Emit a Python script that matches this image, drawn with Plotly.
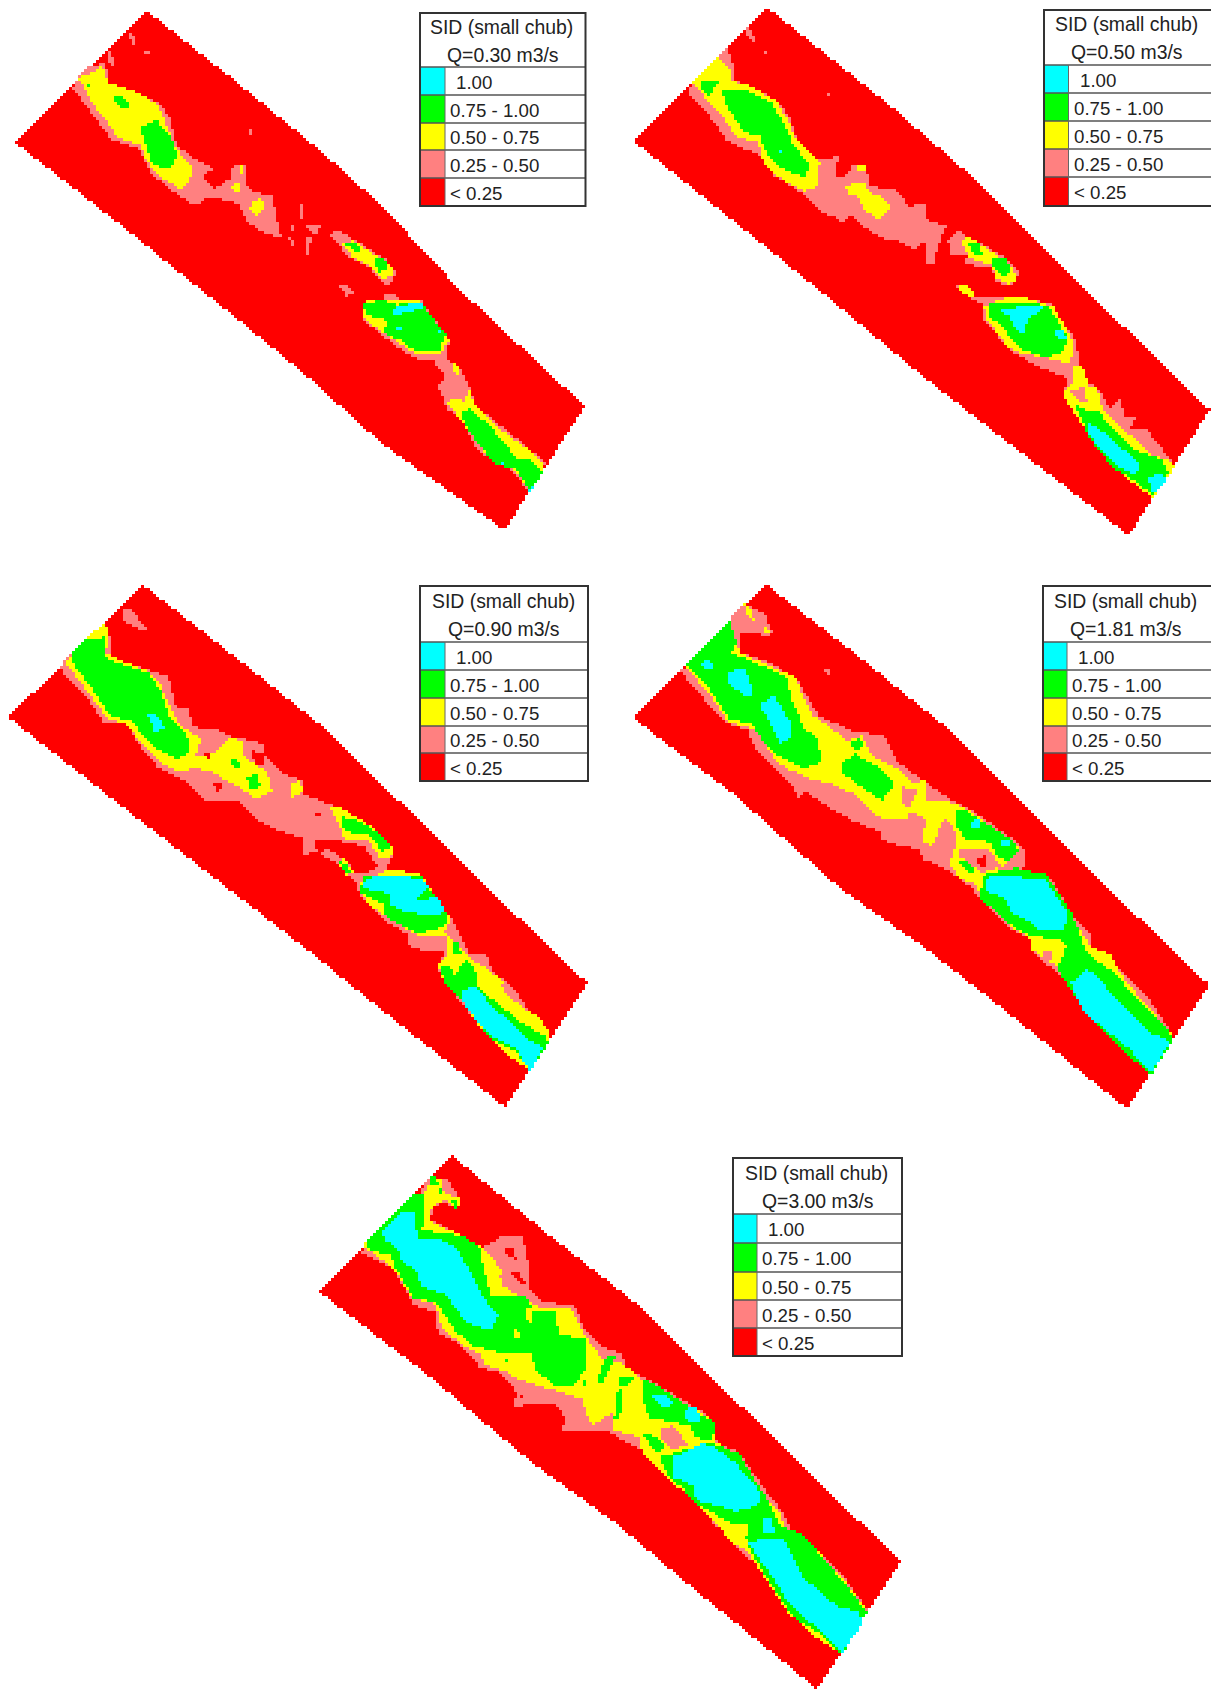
import numpy as np
import plotly.graph_objects as go

# Habitat classes and legend text
CATEGORIES = ["1.00", "0.75 - 1.00", "0.50 - 0.75", "0.25 - 0.50", "< 0.25"]
CLASS_COLORS = ["#00ffff", "#00ff00", "#ffff00", "#ff8080", "#ff0000"]
TITLE = "SID (small chub)"
DISCHARGE = ["Q=0.30 m3/s", "Q=0.50 m3/s", "Q=0.90 m3/s", "Q=1.81 m3/s", "Q=3.00 m3/s"]

# Map outlines of each habitat class per panel
P1_RED = [[(382,30),(620,240),(850,450),(1000,600),(1200,840),(1528,1180),(1318,1540),(1000,1290),(800,1090),(580,890),(300,640),(38,412)]]
P1_PINK = [
 [(205,225),(235,190),(275,185),(285,240),(340,260),(410,295),(445,340),(460,420),(500,455),(555,490),(530,515),(560,550),(600,520),(610,475),(640,475),(640,510),(650,550),(710,570),(735,690),(700,680),(650,650),(620,590),(540,570),(510,600),(470,570),(400,510),(360,430),(290,405),(240,330),(190,255)],
 [(335,95),(345,95),(355,130),(345,125)],[(280,150),(293,150),(295,190),(280,180)],[(375,150),(390,150),(385,167)],
 [(540,275),(550,275),(548,288)],[(648,378),(660,378),(655,395)],
 [(780,590),(792,590),(790,640),(780,640)],[(750,660),(770,655),(765,675)],[(800,655),(840,655),(825,685),(805,670)],[(800,690),(812,690),(810,740),(800,740)],[(755,690),(770,695),(765,715)],
 [(860,680),(885,670),(960,720),(1010,755),(1035,795),(1015,830),(990,810),(965,775),(910,745)],
 [(885,825),(900,825),(925,850),(905,860)],
 [(1010,850),(1035,850),(1040,870),(1100,870),(1120,905),(1175,985),(1165,1040),(1205,1070),(1230,1130),(1240,1175),(1390,1310),(1425,1345),(1385,1430),(1340,1370),(1250,1310),(1200,1210),(1170,1190),(1145,1120),(1165,1095),(1130,1045),(1080,1040),(1000,975),(945,925),(945,880),(1000,870)],
]
P1_YELLOW = [
 [(205,225),(235,215),(265,190),(285,240),(340,260),(410,300),(430,350),(455,420),(480,460),(505,490),(495,520),(475,550),(420,515),(385,470),(365,420),(310,400),(270,340),(235,290)],
 [(620,530),(635,550),(620,560),(605,545)],[(660,590),(680,570),(695,600),(670,625),(648,605)],[(630,480),(640,505),(630,505)],
 [(890,705),(925,700),(985,745),(1020,770),(1030,800),(1000,810),(970,775),(920,745)],
 [(945,890),(960,870),(1100,875),(1125,915),(1175,990),(1150,1025),(1080,1025),(1000,965),(950,925)],
 [(1170,1170),(1190,1155),(1215,1170),(1225,1130),(1240,1175),(1300,1240),(1385,1310),(1425,1350),(1385,1430),(1355,1375),(1270,1320),(1210,1230)],
 [(1185,1055),(1195,1055),(1198,1085),(1188,1085)],
]
P1_GREEN = [
 [(295,280),(320,278),(345,305),(330,318),(295,295)],[(365,370),(410,350),(445,395),(465,450),(445,490),(400,480),(385,430)],[(224,245),(236,245),(232,258)],
 [(905,710),(930,705),(945,730),(925,730)],[(975,745),(1000,745),(1015,780),(990,790)],
 [(950,880),(1000,872),(1035,885),(1100,875),(1120,910),(1165,970),(1150,1015),(1085,1020),(1050,990),(1005,970),(1010,930),(955,915)],
 [(1200,1200),(1230,1185),(1290,1250),(1350,1330),(1385,1335),(1420,1370),(1385,1425),(1350,1365),(1290,1345),(1230,1260)],
]
P1_CYAN = [
 [(1030,895),(1100,875),(1110,895),(1030,915)],[(1030,950),(1050,945),(1050,960),(1035,960)],[(1140,960),(1150,960),(1146,972)],
 [(1378,1420),(1392,1415),(1385,1432)],[(1310,1340),(1320,1340),(1315,1352)],
]

P2_RED = [[(388,20),(560,170),(720,310),(900,480),(1070,660),(1290,900),(1565,1190),(1350,1555),(1000,1260),(800,1090),(570,880),(300,640),(35,408)]]
P2_PINK = [
 [(190,240),(260,160),(285,135),(300,190),(305,235),(350,250),(420,295),(450,340),(470,410),(520,465),(580,455),(570,510),(600,510),(620,475),(650,475),(665,540),(740,555),(765,600),(810,590),(815,640),(865,655),(850,700),(830,770),(810,770),(810,700),(780,725),(740,700),(700,695),(650,660),(610,625),(590,650),(575,630),(540,620),(480,560),(410,510),(370,450),(285,410),(240,340),(180,270)],
 [(870,700),(895,670),(960,710),(1020,745),(1060,795),(1040,830),(1000,820),(985,780),(910,765),(925,745),(880,740)],
 [(330,80),(350,85),(360,130),(340,110)],[(380,145),(395,145),(388,160)],[(550,270),(562,270),(556,282)],[(662,372),(672,372),(670,390)],
 [(885,825),(910,825),(945,860),(1040,860),(1140,880),(1210,990),(1220,1060),(1240,1110),(1270,1130),(1300,1190),(1325,1155),(1340,1210),(1370,1215),(1350,1245),(1400,1250),(1465,1340),(1415,1445),(1360,1390),(1280,1310),(1230,1230),(1175,1145),(1190,1100),(1100,1060),(1040,1020),(960,925),(965,885),(930,865)],
]
P2_YELLOW = [
 [(190,240),(260,165),(295,210),(290,235),(350,250),(415,295),(445,350),(470,410),(530,470),(525,540),(490,555),(420,515),(380,470),(365,410),(310,400),(260,320),(215,270)],
 [(600,545),(620,530),(650,535),(660,560),(690,570),(720,600),(690,640),(650,610),(630,570),(605,570)],[(630,480),(650,482),(650,500),(632,500)],
 [(900,695),(930,690),(1000,740),(1045,785),(1055,810),(1030,825),(1000,810),(985,770),(930,750)],
 [(895,830),(915,825),(940,855),(930,862),(905,850)],
 [(965,890),(1035,860),(1060,860),(1150,890),(1205,995),(1195,1055),(1130,1040),(1065,1025),(1030,1010),(975,930)],
 [(1200,1060),(1225,1060),(1245,1120),(1265,1120),(1280,1190),(1340,1250),(1410,1320),(1465,1340),(1470,1360),(1415,1445),(1345,1390),(1250,1270),(1200,1190),(1175,1145),(1190,1125),(1205,1110)],
]
P2_GREEN = [
 [(215,235),(270,232),(245,255),(240,280),(215,255)],[(270,265),(340,265),(400,295),(430,350),(460,420),(505,480),(490,515),(430,490),(390,445),(370,395),(330,385),(285,310)],
 [(925,705),(955,710),(960,740),(935,735)],[(990,745),(1020,745),(1040,785),(1015,805),(990,770)],
 [(975,880),(1135,885),(1190,985),(1170,1030),(1125,1035),(1065,1015),(1035,980),(1000,930),(975,925)],
 [(1205,1175),(1235,1190),(1270,1190),(1300,1240),(1370,1310),(1440,1335),(1455,1375),(1415,1440),(1370,1400),(1310,1360),(1250,1280)],
]
P2_CYAN = [
 [(420,432),(430,432),(425,443)],
 [(1000,895),(1130,890),(1085,925),(1070,965),(1050,960),(1035,920)],[(1150,960),(1175,955),(1185,985),(1160,980)],
 [(1240,1230),(1265,1240),(1320,1290),(1380,1350),(1370,1375),(1340,1370),(1270,1300),(1245,1260)],[(1400,1390),(1430,1375),(1452,1390),(1415,1440)],
]
P2_PINK2 = [[(1195,1135),(1230,1125),(1240,1170),(1210,1160)]]

P3_RED = [[(372,42),(600,240),(860,470),(1060,690),(1280,930),(1535,1200),(1320,1560),(1000,1280),(800,1100),(590,920),(300,670),(22,428)]]
P3_PINK = [
 [(175,255),(230,195),(275,150),(290,205),(285,250),(410,300),(440,310),(460,395),(490,405),(505,455),(570,465),(610,485),(690,505),(690,540),(735,590),(790,610),(790,650),(860,680),(880,690),(1030,820),(1010,870),(1100,890),(1180,1015),(1200,1060),(1230,1120),(1270,1115),(1290,1170),(1340,1210),(1380,1280),(1440,1350),(1385,1455),(1350,1420),(1280,1360),(1200,1250),(1145,1165),(1160,1110),(1110,1110),(1070,1090),(1070,1060),(1000,1015),(940,940),(930,905),(880,850),(830,820),(790,825),(790,780),(740,760),(690,740),(650,700),(620,670),(540,670),(490,615),(410,570),(365,510),(335,450),(270,440),(220,360),(155,285)],
 [(320,110),(345,115),(385,175),(365,175),(325,150)],
]
P3_YELLOW = [
 [(170,265),(230,195),(275,150),(285,195),(275,240),(290,250),(390,295),(420,335),(445,400),(470,450),(525,490),(510,540),(560,530),(600,490),(635,495),(635,540),(700,590),(710,640),(670,665),(630,635),(590,610),(555,585),(500,575),(470,590),(420,560),(370,505),(335,450),(280,430),(220,340)],
 [(760,620),(785,610),(790,645),(760,665)],
 [(865,690),(890,690),(980,750),(1030,810),(1020,840),(995,840),(960,780),(900,780)],
 [(880,845),(900,840),(925,880),(905,885)],
 [(940,910),(1010,870),(1030,870),(1100,885),(1170,1000),(1180,1020),(1160,1050),(1230,1130),(1275,1160),(1330,1210),(1360,1260),(1410,1300),(1440,1350),(1385,1455),(1340,1420),(1260,1340),(1195,1230),(1160,1195),(1145,1150),(1165,1120),(1170,1060),(1090,1060),(1030,1020),(960,970)],
]
P3_GREEN = [
 [(190,240),(225,200),(275,195),(275,250),(295,265),(390,300),(420,350),(440,420),(495,490),(490,530),(465,550),(410,520),(370,475),(345,440),(290,425),(245,350),(190,270)],
 [(600,545),(630,560),(625,575),(600,565)],[(625,505),(635,515),(628,520)],[(645,600),(675,592),(680,630),(655,635)],
 [(890,715),(930,725),(985,760),(1025,800),(1000,820),(965,770),(900,760)],
 [(885,845),(905,855),(915,875),(900,880)],
 [(950,890),(1100,890),(1165,995),(1170,1020),(1150,1040),(1095,1055),(1040,1025),(1010,1010),(1000,970),(940,935)],
 [(1150,1145),(1170,1150),(1190,1175),(1215,1130),(1240,1150),(1250,1210),(1300,1260),(1370,1320),(1420,1350),(1435,1370),(1385,1455),(1350,1400),(1280,1360),(1210,1250),(1160,1195)],
 [(1180,1080),(1200,1080),(1205,1115),(1180,1115)],
]
P3_CYAN = [
 [(385,420),(405,420),(435,460),(405,470)],
 [(950,905),(975,890),(1030,890),(1100,895),(1120,920),(1080,960),(1145,950),(1165,995),(1130,1005),(1050,990),(1020,970),(1015,940),(950,925)],
 [(1205,1220),(1240,1210),(1290,1270),(1350,1330),(1395,1375),(1420,1385),(1385,1455),(1345,1385),(1290,1360),(1255,1320),(1205,1250)],
]
P3_PINK2 = [[(1310,1200),(1340,1210),(1380,1280),(1355,1260),(1320,1230)]]
P3_RED2 = [
 [(655,525),(690,530),(690,560),(670,570)],[(555,615),(585,615),(570,645)],[(535,535),(550,535),(545,545)],[(592,690),(604,690),(598,702)],[(825,710),(838,710),(832,722)],
 [(640,388),(652,388),(650,405)],[(530,288),(542,288),(536,300)],
 [(820,790),(860,780),(900,790),(950,800),(985,860),(960,880),(930,880),(900,840),(860,810),(830,820)],
]

P4_RED = [[(388,42),(620,240),(880,470),(1060,670),(1290,920),(1563,1205),(1345,1565),(1000,1260),(800,1090),(590,930),(300,650),(35,430),(165,285)]]
P4_PINK = [
 [(165,290),(290,150),(300,130),(330,100),(385,130),(405,185),(385,190),(330,180),(315,190),(320,240),(410,275),(470,320),(515,400),(530,425),(590,455),(620,470),(700,480),(735,555),(790,600),(880,670),(930,695),(1040,780),(1075,815),(1070,870),(1140,890),(1200,1000),(1250,1060),(1250,1100),(1290,1115),(1400,1240),(1465,1345),(1410,1465),(1355,1400),(1280,1340),(1200,1220),(1160,1170),(1095,1110),(1095,1075),(1030,1040),(960,960),(930,920),(870,870),(805,840),(790,810),(740,800),(695,785),(690,760),(620,730),(540,680),(490,640),(475,665),(455,625),(420,590),(355,510),(340,465),(280,445),(235,390),(160,295)],
 [(540,285),(555,285),(560,305),(545,300)],
]
P4_YELLOW = [
 [(170,280),(290,150),(320,240),(350,255),(430,295),(465,310),(480,350),(510,420),(580,475),(600,500),(640,480),(670,540),(740,580),(780,620),(810,610),(810,670),(860,670),(890,680),(930,700),(1040,790),(1060,810),(1030,850),(1000,870),(1060,870),(1140,900),(1195,1000),(1250,1095),(1300,1115),(1320,1160),(1370,1230),(1400,1270),(1470,1350),(1410,1465),(1350,1400),(1270,1320),(1190,1200),(1160,1150),(1090,1100),(1090,1070),(1040,1040),(960,955),(945,915),(895,890),(875,850),(895,780),(880,740),(860,720),(830,800),(805,790),(810,720),(770,700),(760,720),(690,720),(620,650),(590,635),(560,620),(510,610),(450,580),(415,555),(370,480),(350,460),(285,440),(240,360)],
 [(330,100),(345,105),(355,145),(340,140)],[(378,165),(392,165),(395,180),(385,180)],
]
P4_GREEN = [
 [(175,275),(290,150),(310,210),(295,245),(330,255),(440,310),(460,390),(490,460),(525,490),(535,560),(490,575),(420,540),(375,490),(350,445),(290,435),(240,350)],
 [(590,560),(625,535),(680,570),(730,620),(695,670),(640,630),(590,590)],[(610,505),(635,490),(650,515),(625,520)],
 [(890,700),(920,700),(1040,785),(1060,815),(1030,850),(995,825),(985,790),(915,780),(890,740)],
 [(900,850),(920,840),(945,870),(930,885)],
 [(965,885),(1050,865),(1130,885),(1200,1000),(1240,1115),(1300,1160),(1370,1240),(1440,1320),(1470,1360),(1410,1465),(1370,1430),(1290,1350),(1210,1240),(1160,1160),(1185,1090),(1160,1070),(1090,1065),(1020,1020),(955,950)],
]
P4_CYAN = [
 [(215,270),(240,255),(245,285),(225,285)],[(285,295),(330,285),(350,340),(345,375),(305,345),(285,320)],[(370,390),(410,365),(450,440),(450,490),(425,505),(400,450)],
 [(925,730),(955,725),(960,750),(935,745)],[(1005,790),(1035,780),(1030,800),(1010,805)],
 [(970,905),(985,890),(1125,895),(1190,1000),(1175,1045),(1110,1045),(1090,1020),(1040,1000),(1020,950),(970,935)],
 [(1195,1200),(1240,1160),(1265,1175),(1280,1200),(1340,1270),(1400,1340),(1460,1370),(1410,1460),(1350,1390),(1270,1320),(1230,1280)],
]
P4_YELLOW2 = [[(1090,1075),(1170,1075),(1180,1095),(1155,1130),(1120,1120),(1095,1105)]]
P4_PINK2 = [[(900,810),(980,810),(1010,860),(960,880),(900,830)],[(1125,1105),(1150,1105),(1150,1135),(1125,1125)],[(745,630),(790,640),(770,690),(745,680)]]
P4_RED2 = [[(945,840),(970,830),(975,860),(955,860)],[(660,390),(671,390),(668,408)]]

P5_RED = [[(372,45),(600,250),(850,465),(1050,680),(1260,900),(1543,1205),(1325,1568),(1000,1280),(800,1095),(590,930),(300,665),(22,432)]]
P5_PINK = [
 [(125,315),(160,310),(290,150),(300,125),(315,105),(360,115),(395,170),(385,200),(350,175),(320,195),(315,230),(380,265),(450,310),(500,275),(555,275),(570,350),(570,420),(610,465),(690,470),(720,545),(760,590),(815,610),(830,660),(880,680),(1040,785),(1065,870),(1120,890),(1190,1000),(1240,1070),(1260,1115),(1290,1130),(1390,1240),(1455,1340),(1390,1470),(1350,1430),(1270,1370),(1190,1235),(1110,1160),(1100,1130),(1060,1100),(1010,1040),(960,970),(900,910),(860,880),(780,835),(730,830),(660,835),(665,790),(650,760),(590,750),(530,765),(540,720),(500,665),(445,650),(390,580),(335,550),(325,490),(270,470),(220,370),(170,340)],
]
P5_YELLOW = [
 [(135,300),(190,240),(245,185),(300,155),(315,110),(340,110),(350,150),(395,170),(385,195),(350,170),(320,190),(310,230),(380,265),(455,310),(500,370),(495,410),(540,440),(590,475),(680,480),(720,560),(760,620),(820,640),(860,680),(880,690),(1040,790),(1060,860),(1100,890),(1120,900),(1185,1010),(1230,1070),(1240,1110),(1290,1130),(1390,1250),(1455,1345),(1390,1470),(1320,1420),(1250,1350),(1170,1220),(1140,1170),(1100,1150),(1060,1090),(990,1020),(960,990),(905,930),(870,900),(860,850),(790,825),(750,825),(730,800),(710,740),(610,705),(540,680),(510,660),(455,640),(445,610),(405,590),(345,540),(330,470),(265,450),(225,375),(185,340)],
]
P5_GREEN = [
 [(145,295),(190,240),(240,185),(280,150),(300,160),(300,240),(285,255),(380,270),(410,280),(450,310),(450,350),(475,450),(560,445),(590,490),(640,490),(650,555),(720,570),(725,650),(690,700),(640,700),(590,660),(580,610),(490,605),(420,585),(380,545),(345,490),(330,465),(270,450),(225,370),(210,330),(160,315)],
 [(870,680),(890,690),(1030,790),(1060,810),(1050,860),(1010,850),(990,815),(920,800),(890,800),(870,740)],
 [(910,905),(1000,880),(1050,865),(1120,895),(1185,1010),(1230,1100),(1290,1130),(1330,1180),(1400,1270),(1455,1350),(1390,1470),(1330,1410),(1260,1360),(1185,1235),(1150,1170),(1140,1140),(1130,1110),(1060,1070),(1010,1040),(970,990),(935,960)],
]
P5_CYAN = [
 [(185,260),(240,205),(275,210),(280,280),(345,285),(385,310),(430,400),(465,470),(495,500),(470,545),(410,520),(375,475),(355,440),(290,420),(280,375),(240,345),(230,310),(195,285)],
 [(890,725),(930,725),(950,755),(920,765)],[(975,770),(1005,760),(1025,800),(990,810)],
 [(945,905),(985,890),(1025,865),(1060,880),(1110,920),(1180,1010),(1170,1045),(1110,1060),(1050,1040),(1010,1030),(1000,985),(950,965)],
 [(1180,1080),(1205,1075),(1215,1125),(1180,1125)],
 [(1145,1150),(1200,1135),(1240,1140),(1265,1195),(1290,1250),(1380,1335),(1430,1345),(1445,1380),(1390,1465),(1350,1420),(1290,1360),(1250,1320),(1200,1235),(1175,1200)],
]
P5_YELLOW2 = [
 [(455,310),(495,365),(500,420),(470,430),(465,370)],[(530,525),(555,570),(535,565)],[(565,480),(585,480),(580,525),(565,515)],
 [(890,810),(960,810),(1000,860),(960,880),(900,870)],[(1100,1100),(1145,1095),(1145,1130),(1120,1150),(1085,1120)],
]
P5_PINK2 = [[(745,810),(790,780),(795,830),(745,830)],[(920,825),(950,815),(985,870),(950,885),(920,855)]]
P5_GREEN2 = [
 [(310,105),(330,105),(335,125),(315,125)],[(335,120),(345,150),(335,150)],[(365,170),(385,170),(380,195)],
 [(775,620),(800,620),(780,660),(760,700),(750,680)],[(805,710),(815,710),(810,800),(795,795)],[(810,680),(845,680),(830,700),(810,700)],[(505,628),(516,628),(510,640)],[(710,680),(725,700),(710,705)],
 [(870,840),(900,845),(930,880),(905,895)],
]
P5_RED2 = [[(500,305),(530,305),(540,345),(520,330)],[(525,375),(545,375),(565,415),(540,400)],[(644,396),(656,396),(652,412)],[(584,786),(596,786),(592,798)],[(550,730),(560,730),(556,740)]]

# Placement of the traced maps in the page: panel offset and trace scale
MAP_OFFSET = [(0,0),(620,0),(0,570),(620,570),(310,1140)]
MAP_SCALE = [(2.613,2.904),(2.653,2.904),(2.613,2.904),(2.653,2.904),(2.613,2.856)]

# Legend boxes: left, right, swatch edge, then the rules from title top to bottom
LEG_X = [(420,585.5,445),(1044,1212,1068.5),(420,588,445),(1043,1212,1067),(733,902,757)]
LEG_Y = [(13,67,95,123,150,178,206),(10,65,93,121,149,177,206),(586,642,670,698,726,753,781),(586,642,670,698,726,753,781),(1158,1214,1243,1272,1300,1328,1356)]

# Class painted by each traced layer, bottom to top
LAYER_ORDER = [("RED",0),("PINK",1),("YELLOW",2),("GREEN",3),("CYAN",4),("YELLOW2",2),("PINK2",1),("GREEN2",3),("RED2",0)]
CELL = 3.0  # the source map is a raster of roughly 3 px cells


def inside(px, py, poly):
    xs = np.array([p[0] for p in poly], float)
    ys = np.array([p[1] for p in poly], float)
    xj, yj = np.roll(xs, 1), np.roll(ys, 1)
    hit = np.zeros(px.shape, bool)
    for a, b, c, d in zip(xs, ys, xj, yj):
        if b == d:
            continue
        cross = ((b > py) != (d > py)) & (px < (c - a) * (py - b) / (d - b) + a)
        hit ^= cross
    return hit


fig = go.Figure()
scale = [[0, CLASS_COLORS[4]], [0.2, CLASS_COLORS[4]], [0.2, CLASS_COLORS[3]], [0.4, CLASS_COLORS[3]],
         [0.4, CLASS_COLORS[2]], [0.6, CLASS_COLORS[2]], [0.6, CLASS_COLORS[1]], [0.8, CLASS_COLORS[1]],
         [0.8, CLASS_COLORS[0]], [1, CLASS_COLORS[0]]]
for i in range(5):
    ox, oy = MAP_OFFSET[i]; sx, sy = MAP_SCALE[i]
    xc = np.arange(ox, min(ox + 600, 1211), CELL) + CELL / 2
    yc = np.arange(oy, min(oy + 550, 1689), CELL) + CELL / 2
    gx, gy = np.meshgrid(xc, yc)
    tx, ty = (gx - ox) * sx, (gy - oy) * sy
    z = np.full(gx.shape, np.nan)
    for name, val in LAYER_ORDER:
        for poly in globals().get(f"P{i+1}_{name}", []):
            z[inside(tx, ty, poly)] = val
    fig.add_trace(go.Heatmap(x=xc, y=yc, z=z, zmin=-0.5, zmax=4.5, colorscale=scale, showscale=False,
                             zsmooth=False, hoverinfo="skip"))

TITLE_FONT = dict(family="Liberation Sans, Arial, sans-serif", size=19.4, color="#222222")
FONT = dict(family="Liberation Sans, Arial, sans-serif", size=18.7, color="#222222")
shapes, annos = [], []
for i in range(5):
    x0, x1, xs = LEG_X[i]; ys = LEG_Y[i]
    for r in range(5):
        shapes.append(dict(type="rect", x0=x0, x1=xs, y0=ys[r+1], y1=ys[r+2], fillcolor=CLASS_COLORS[r], line=dict(width=0), layer="above"))
    for y in ys[1:-1]:
        shapes.append(dict(type="line", x0=x0, x1=x1, y0=y, y1=y, line=dict(color="#555555", width=1.6), layer="above"))
    shapes.append(dict(type="line", x0=xs, x1=xs, y0=ys[1], y1=ys[-1], line=dict(color="#666666", width=1), layer="above"))
    shapes.append(dict(type="rect", x0=x0, x1=x1, y0=ys[0], y1=ys[-1], line=dict(color="#333333", width=2), layer="above"))
    cx = (x0 + (x0 + 166 if i in (1,3) else x1)) / 2
    annos.append(dict(x=cx-1, y=ys[0]+(ys[1]-ys[0])*0.26, text=TITLE, showarrow=False, xanchor="center", yanchor="middle", font=TITLE_FONT))
    annos.append(dict(x=cx, y=ys[0]+(ys[1]-ys[0])*0.77, text=DISCHARGE[i], showarrow=False, xanchor="center", yanchor="middle", font=TITLE_FONT))
    for r, t in enumerate(CATEGORIES):
        annos.append(dict(x=xs+(9 if r == 0 else 3), y=(ys[r+1]+ys[r+2])/2+1, text=t, showarrow=False, xanchor="left", yanchor="middle", font=FONT))

fig.update_layout(width=1211, height=1689, margin=dict(l=0,r=0,t=0,b=0), paper_bgcolor="white", plot_bgcolor="white",
                  showlegend=False, shapes=shapes, annotations=annos,
                  xaxis=dict(range=[0,1211], visible=False, fixedrange=True),
                  yaxis=dict(range=[1689,0], visible=False, fixedrange=True))
fig.write_html("out.html", config={"displayModeBar": False},
               post_script="document.body.style.margin='0';document.body.style.overflow='hidden';")
